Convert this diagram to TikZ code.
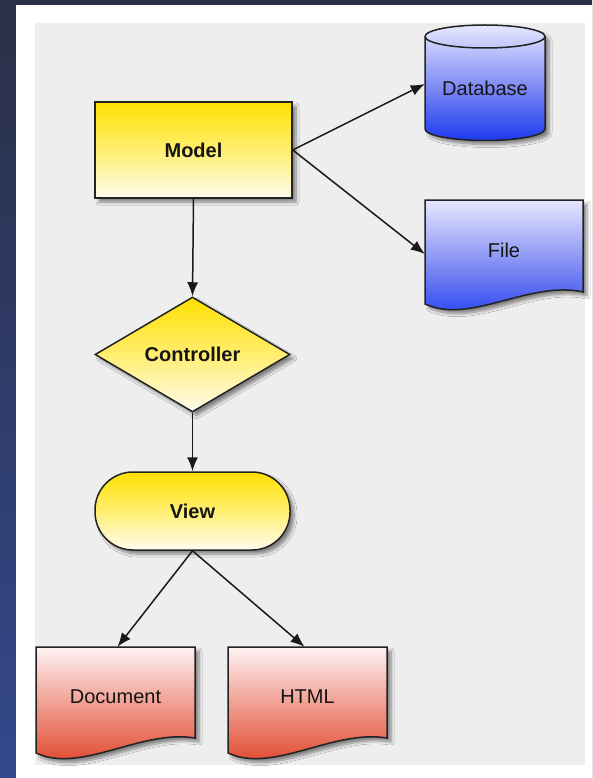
\documentclass[tikz,border=0pt]{standalone}
\usepackage{fontspec}
\setmainfont{Liberation Sans}
\usetikzlibrary{shapes.geometric,shadows.blur,arrows.meta}
\definecolor{bgtop}{HTML}{2A3047}
\definecolor{bgbot}{HTML}{34488C}
\definecolor{panel}{HTML}{EEEEEE}
\definecolor{ytop}{HTML}{FFE000}
\definecolor{ymid}{HTML}{FFEE70}
\definecolor{ybot}{HTML}{FFFCEE}
\definecolor{btop}{HTML}{E6E8FF}
\definecolor{bmid}{HTML}{8590F5}
\definecolor{bbot}{HTML}{1C3AEE}
\definecolor{rtop}{HTML}{FFF2F2}
\definecolor{rmid}{HTML}{EE9585}
\definecolor{rbot}{HTML}{E03A1E}
\definecolor{txt}{HTML}{151515}
\definecolor{edge}{HTML}{222222}
\begin{document}
\begin{tikzpicture}[x=1pt,y=1pt,
  outl/.style={draw=edge, line width=1.5pt},
  shad/.style={blur shadow={shadow xshift=4pt, shadow yshift=-4pt, shadow blur steps=6, shadow blur radius=3pt, shadow opacity=45}},
  yel/.style={top color=ytop, bottom color=ybot, middle color=ymid},
  blu/.style={top color=btop, bottom color=bbot, middle color=bmid},
  red/.style={top color=rtop, bottom color=rbot, middle color=rmid},
  lbl/.style={font=\fontsize{20}{24}\selectfont, text=txt, inner sep=0pt},
  blbl/.style={font=\fontsize{20}{24}\selectfont\bfseries, text=txt, inner sep=0pt},
  conn/.style={-{Latex[length=14pt,width=11pt]}, line width=1.5pt, draw=black!90}
]
\useasboundingbox (0,0) rectangle (592,-778);
% backgrounds
\shade[top color=bgtop, bottom color=bgbot] (0,0) rectangle (592,-778);
\fill[white] (16,-5) rectangle (592,-778);
\fill[panel] (35,-23) rectangle (585,-765);

% Model
\node[blbl, yel, shad, outl, minimum width=197pt, minimum height=96pt] (model) at (193.5,-150) {Model};

% Controller
\node[blbl, diamond, yel, shad, outl, minimum width=195pt, minimum height=115pt, aspect=1.7] (ctrl) at (192.5,-354.5) {Controller};

% View
\node[blbl, rectangle, rounded corners=38pt, yel, shad, outl, minimum width=195pt, minimum height=78pt] (view) at (192.5,-511) {View};

% Database cylinder
\path[blu, shad, outl] (425,-36.5) -- (425,-129) arc (180:360:60 and 11.5) -- (545,-36.5) arc (0:180:60 and 11.5) -- cycle;
\draw[edge, line width=1.5pt] (425,-36.5) arc (180:360:60 and 11.5);
\node[lbl, minimum width=120pt] (db) at (485,-88) {Database};

% File
\path[blu, shad, outl] (425,-200) -- (583,-200) -- (583,-292) .. controls (530,-280) and (470,-325) .. (425,-304) -- cycle;
\node[lbl, minimum width=158pt] (file) at (504,-250) {File};

% Document
\path[red, shad, outl] (36,-647) -- (195,-647) -- (195,-738) .. controls (141,-729) and (81,-774) .. (36,-753) -- cycle;
\node[lbl, minimum width=159pt, minimum height=100pt] (doc) at (115.5,-697) {Document};

% HTML
\path[red, shad, outl] (228,-647) -- (387,-647) -- (387,-738) .. controls (333,-729) and (273,-774) .. (228,-753) -- cycle;
\node[lbl, minimum width=159pt, minimum height=100pt] (html) at (307.5,-697) {HTML};

% connectors
\draw[conn] (model.east) -- ([yshift=4pt]db.west);
\draw[conn] (model.east) -- ([yshift=-4pt]file.west);
\draw[conn] (model.south) -- (ctrl.north);
\draw[conn] (ctrl.south) -- (view.north);
\draw[conn] (view.south) -- ([xshift=2pt]doc.north);
\draw[conn] (view.south) -- ([xshift=-3pt]html.north);
\end{tikzpicture}
\end{document}
